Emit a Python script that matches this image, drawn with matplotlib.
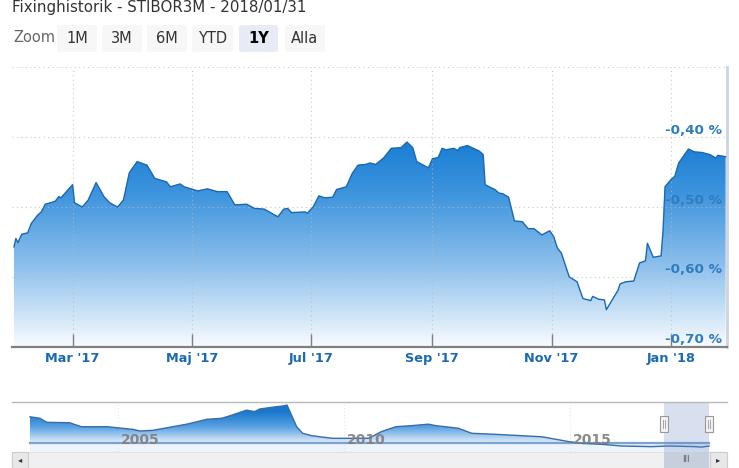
import numpy as np
import pandas as pd
import matplotlib
matplotlib.use("Agg")
import matplotlib.pyplot as plt
import matplotlib.dates as mdates
from matplotlib.colors import LinearSegmentedColormap, Normalize
from matplotlib.patches import Rectangle, FancyBboxPatch

W, H = 739, 468

# --- data -------------------------------------------------------------
title = "Fixinghistorik - STIBOR3M - 2018/01/31"
start = pd.Timestamp("2017-01-30")
day_offsets = [0, 1, 2, 4, 7, 9, 12, 14, 16, 21, 23, 24, 30, 31, 35, 38, 42, 46, 49, 53,
               56, 59, 63, 68, 72, 78, 80, 85, 87, 94, 99, 104, 109, 113, 119, 123, 128, 135, 138, 140,
               142, 149, 150, 153, 156, 159, 163, 165, 170, 173, 176, 180, 182, 185, 189, 193, 198, 201, 204, 206,
               212, 214, 217, 219, 221, 225, 227, 228, 232, 235, 238, 240, 241, 243, 246, 248, 250, 253, 256, 260,
               263, 266, 270, 274, 276, 278, 280, 284, 288, 291, 295, 296, 299, 302, 303, 306, 309, 310, 313, 317,
               320, 323, 324, 327, 331, 332, 333, 336, 338, 340, 342, 345, 348, 352, 356, 359, 360, 364]
stibor = [-0.557, -0.545, -0.551, -0.539, -0.537, -0.523, -0.512, -0.507, -0.496, -0.492,
          -0.485, -0.487, -0.468, -0.494, -0.500, -0.490, -0.465, -0.485, -0.494, -0.500,
          -0.490, -0.451, -0.435, -0.440, -0.459, -0.464, -0.471, -0.467, -0.471, -0.477,
          -0.474, -0.478, -0.478, -0.497, -0.496, -0.502, -0.503, -0.514, -0.503, -0.502,
          -0.508, -0.507, -0.509, -0.500, -0.484, -0.487, -0.486, -0.475, -0.471, -0.452,
          -0.440, -0.439, -0.437, -0.439, -0.430, -0.416, -0.415, -0.407, -0.415, -0.435,
          -0.444, -0.431, -0.429, -0.416, -0.418, -0.416, -0.419, -0.415, -0.412, -0.416,
          -0.420, -0.425, -0.468, -0.471, -0.475, -0.480, -0.481, -0.486, -0.520, -0.521,
          -0.531, -0.531, -0.540, -0.534, -0.542, -0.559, -0.566, -0.600, -0.607, -0.631,
          -0.634, -0.628, -0.632, -0.633, -0.647, -0.633, -0.619, -0.610, -0.607, -0.606,
          -0.580, -0.577, -0.552, -0.572, -0.570, -0.533, -0.471, -0.461, -0.456, -0.437,
          -0.429, -0.417, -0.421, -0.422, -0.425, -0.430, -0.426, -0.428]
month_ticks = ["2017-03-01", "2017-05-01", "2017-07-01", "2017-09-01", "2017-11-01", "2018-01-01"]
month_labels = ["Mar '17", "Maj '17", "Jul '17", "Sep '17", "Nov '17", "Jan '18"]
y_ticks = [-0.70, -0.60, -0.50, -0.40, -0.30]
y_labels = ["-0,70 %", "-0,60 %", "-0,50 %", "-0,40 %", ""]

nav_dates = ["2003-01-20", "2003-04-10", "2003-06-05", "2003-12-05", "2004-03-10", "2004-10-05",
             "2005-05-01", "2005-06-28", "2005-10-10", "2006-03-20", "2006-07-10", "2006-12-20",
             "2007-04-20", "2007-07-15", "2007-11-05", "2008-01-10", "2008-02-20", "2008-06-05",
             "2008-09-10", "2008-09-28", "2008-11-15", "2008-12-15", "2009-02-01", "2009-04-15",
             "2009-06-20", "2009-10-05", "2010-01-25", "2010-07-20", "2010-11-01", "2011-02-25",
             "2011-07-01", "2011-11-15", "2012-01-15", "2012-07-15", "2012-10-30", "2013-05-10",
             "2014-05-20", "2014-09-10", "2014-12-25", "2015-04-10", "2015-09-15", "2016-02-25",
             "2016-10-25", "2017-03-10", "2017-10-15", "2017-12-01", "2018-01-31"]
nav_values = [3.5, 3.3, 2.75, 2.7, 2.16, 2.16, 1.8, 1.58, 1.67, 2.16, 2.5, 3.16,
              3.3, 3.75, 4.4, 4.2, 4.55, 4.8, 5.0, 5.1, 3.3, 2.16, 1.27, 0.95,
              0.8, 0.59, 0.59, 0.6, 1.5, 2.16, 2.3, 2.5, 2.3, 1.95, 1.27, 1.13,
              0.8, 0.46, 0.14, -0.1, -0.22, -0.45, -0.54, -0.45, -0.54, -0.6, -0.45]
nav_years = ["2005", "2010", "2015"]

zoom_buttons = ["1M", "3M", "6M", "YTD", "1Y", "Alla"]
selected_button = "1Y"


def fig_rect(x0, y0, x1, y1, **kw):
    """rektangel i pixelkoordinater (origo uppe till vänster)"""
    return Rectangle((x0 / W, 1 - y1 / H), (x1 - x0) / W, (y1 - y0) / H,
                     transform=fig.transFigure, **kw)


fig = plt.figure(figsize=(W / 100, H / 100), dpi=100)
fig.patch.set_facecolor("white")

# --- huvuddiagram -----------------------------------------------------
ax = fig.add_axes([12 / W, 1 - 346.7 / H, 715 / W, (346.7 - 67.3) / H])
dates = start + pd.to_timedelta(day_offsets, unit="D")
xd = mdates.date2num(dates)
x0 = mdates.date2num(start) - 1.0
x1 = mdates.date2num(start) + 364.7
ax.set_xlim(x0, x1)
ax.set_ylim(-0.70, -0.30)

cmap = LinearSegmentedColormap.from_list(
    "fill", [(0, "#f8fbfe"), (0.4, "#8dc0ec"), (0.75, "#3f95dd"), (1, "#1b7fd4")])
grad = np.linspace(-0.30, -0.70, 256).reshape(-1, 1)
im = ax.imshow(grad, extent=[x0, x1, -0.70, -0.30], aspect="auto", cmap=cmap,
               norm=Normalize(-0.70, -0.41), origin="upper", zorder=1)
poly = ax.fill_between(xd, stibor, -0.70, facecolor="none", edgecolor="none")
im.set_clip_path(poly.get_paths()[0], ax.transData)
ax.plot(xd, stibor, color="#1a68b0", lw=1.0, zorder=3)
ax.set_xlim(x0, x1)
ax.set_ylim(-0.70, -0.30)

ax.set_xticks(mdates.date2num(pd.to_datetime(month_ticks)))
ax.set_xticklabels(month_labels, fontsize=9.3, fontweight="bold", color="#1c6ab1")
ax.set_yticks(y_ticks)
ax.set_yticklabels([])
ax.tick_params(axis="y", length=0)
ax.tick_params(axis="x", direction="in", length=9.5, width=1, color="#808080", pad=3.5)
ax.grid(True, ls=(0, (1, 3)), color="#b8b8b8", lw=0.8, alpha=0.8, zorder=2)
ax.set_axisbelow(False)
for s in ["top", "left"]:
    ax.spines[s].set_visible(False)
ax.spines["bottom"].set_color("#808080")
ax.spines["bottom"].set_linewidth(1.6)
ax.spines["right"].set_color("#cdd4df")
ax.spines["right"].set_linewidth(2)
ax.patch.set_alpha(0)

for v, lab in zip(y_ticks, y_labels):
    if lab:
        ax.annotate(lab, xy=(1, v), xycoords=("axes fraction", "data"), xytext=(-5, 7),
                    textcoords="offset pixels", ha="right", va="center",
                    fontsize=9.7, fontweight="bold", color="#2f7cbf", zorder=5)

# --- navigator --------------------------------------------------------
nav = fig.add_axes([12 / W, 1 - 451.7 / H, 715 / W, (451.7 - 402.3) / H])
nx = mdates.date2num(pd.to_datetime(nav_dates))
n0, n1 = nx[0] - 145.5, nx[-1] + 145.5
nav.set_xlim(n0, n1)
nav.set_ylim(-1.22, 5.46)
nav.fill_between([nx[0], nx[-1]], -1.22, 0, color="#eef4fb", lw=0, zorder=0)
ncmap = LinearSegmentedColormap.from_list("nav", ["#e2eefa", "#5aa2e2", "#1877cc"])
ngrad = np.linspace(5.46, -1.22, 256).reshape(-1, 1)
nim = nav.imshow(ngrad, extent=[n0, n1, -1.22, 5.46], aspect="auto", cmap=ncmap,
                 norm=Normalize(0, 4.2), origin="upper", zorder=1)
npoly = nav.fill_between(nx, nav_values, 0, facecolor="none", edgecolor="none")
nim.set_clip_path(npoly.get_paths()[0], nav.transData)
nav.plot([nx[0], nx[-1]], [0, 0], color="#7ea2cf", lw=1.6, zorder=2)
nav.plot(nx, nav_values, color="#3a6ca6", lw=1.0, zorder=3)
for yr in nav_years:
    t = mdates.date2num(pd.Timestamp(f"{yr}-01-01"))
    nav.axvline(t, color="#e6e6e6", lw=0.8, ls=(0, (1, 2)), zorder=0.5)
    nav.annotate(yr, xy=(t, 0.36), xytext=(3, 0), textcoords="offset pixels",
                 ha="left", va="center", fontsize=10, fontweight="bold",
                 color="#7f7f7f", alpha=0.9, zorder=4)
sel0 = mdates.date2num(start)
sel1 = mdates.date2num(start) + 366
nav.axvspan(sel0, sel1, color="#6685c2", alpha=0.25, lw=0, zorder=5)
nav.set_xlim(n0, n1)
nav.set_xticks([])
nav.set_yticks([])
for s in nav.spines.values():
    s.set_visible(False)
nav.patch.set_alpha(0)

# navigatorns kant överst
fig.add_artist(plt.Line2D([12 / W, 727 / W], [1 - 402.3 / H] * 2, color="#b8b8b8", lw=1,
                          transform=fig.transFigure))

# handtag och scrollbar
inv = fig.transFigure.inverted()
hx = [inv.transform(nav.transData.transform((v, 0)))[0] * W for v in (sel0, sel1)]
fig.add_artist(fig_rect(12, 452, 727, 467.5, facecolor="#f0f0f0", edgecolor="#e2e2e2", lw=0.8))
fig.add_artist(fig_rect(hx[0], 452, hx[1], 467.5, facecolor="#c6cfdc", edgecolor="none"))
fig.text((hx[0] + hx[1]) / 2 / W, 1 - 460 / H, "III", ha="center", va="center",
         fontsize=6, color="#555555")
fig.add_artist(fig_rect(12, 452, 28, 467.5, facecolor="#e8e8e8", edgecolor="#cccccc", lw=0.8))
fig.add_artist(fig_rect(710, 452, 727, 467.5, facecolor="#e8e8e8", edgecolor="#cccccc", lw=0.8))
fig.text(20 / W, 1 - 460 / H, "\u25c2", ha="center", va="center", fontsize=6, color="#333333")
fig.text(718.5 / W, 1 - 460 / H, "\u25b8", ha="center", va="center", fontsize=6, color="#333333")
for h in hx:
    fig.add_artist(fig_rect(h - 4, 416, h + 4, 432, facecolor="#f2f2f2", edgecolor="#999999", lw=0.8))
    for dx in (-1.2, 1.2):
        fig.add_artist(plt.Line2D([(h + dx) / W] * 2, [1 - 420 / H, 1 - 428 / H],
                                  color="#999999", lw=0.6, transform=fig.transFigure))

# --- rubrik och zoomknappar --------------------------------------------
fig.text(12 / W, 1 - 12 / H, title, ha="left", va="baseline", fontsize=10.8, color="#333333")
fig.text(13 / W, 1 - 38 / H, "Zoom", ha="left", va="center", fontsize=10.5, color="#666666")
bx = [57, 102, 147, 192, 239, 285]
bw = [40, 40, 40, 41, 39, 40]
for lab, left, w in zip(zoom_buttons, bx, bw):
    sel = lab == selected_button
    fig.add_artist(FancyBboxPatch((left / W, 1 - 52 / H), w / W, 27 / H,
                                  boxstyle="round,pad=0,rounding_size=0.004",
                                  transform=fig.transFigure,
                                  facecolor="#e6ebf5" if sel else "#f7f7f7", edgecolor="none"))
    fig.text((left + w / 2) / W, 1 - 38.5 / H, lab, ha="center", va="center", fontsize=10.5,
             fontweight="bold" if sel else "normal", color="#000000" if sel else "#333333")

fig.savefig("out.png", dpi=100)
